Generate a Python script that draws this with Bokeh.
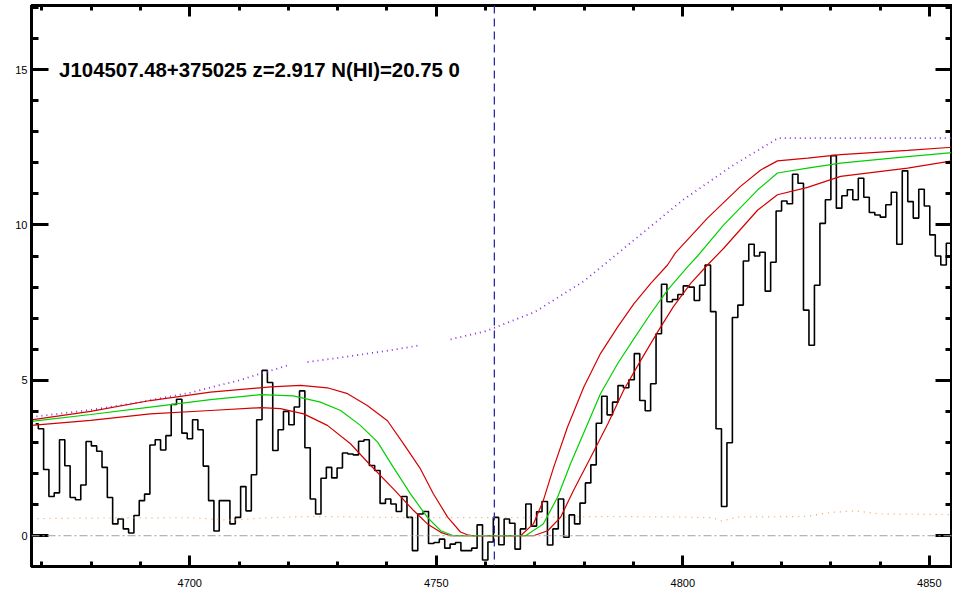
import numpy as np
from bokeh.plotting import figure
from bokeh.models import Span, Label, LinearAxis, SingleIntervalTicker, Range1d, CustomJSTickFormatter
from bokeh.embed import file_html
from bokeh.resources import INLINE

# ---------------- data ----------------
qso_name = "J104507.48+375025"
z_abs = 2.917
log_nhi = "20.75"
lya_rest = 1215.67

# SDSS-like log-lambda pixel grid
loglam_start = 3.6692
dloglam = 1.0e-4

flux = [
    3.6, 3.44, 2.13, 1.26, 1.38, 3.09, 2.25, 1.23, 1.16, 1.63,
    3.03, 2.89, 2.72, 2.2, 1.23, 0.38, 0.54, 0.22, 0.09, 0.65,
    1.13, 1.34, 2.92, 3.09, 2.76, 3.22, 4.22, 4.39, 3.3, 3.12,
    3.73, 3.41, 2.24, 1.13, 0.15, 1.13, 1.13, 0.38, 0.59, 1.58,
    0.8, 1.96, 3.73, 5.32, 4.93, 2.74, 3.41, 4.0, 3.57, 4.14,
    4.66, 2.83, 1.18, 0.7, 1.85, 2.2, 1.86, 2.18, 2.66, 2.63,
    2.6, 3.04, 3.09, 2.26, 2.1, 1.04, 1.18, 1.02, 0.78, 1.26,
    0.59, -0.48, 0.7, 0.78, -0.25, -0.22, -0.11, -0.4, -0.27, -0.22,
    -0.48, -0.48, -0.4, 0.35, -0.78, -0.2, 0.59, -0.29, 0.54, 0.4,
    -0.43, 0.22, 1.02, 0.31, 0.77, 1.1, -0.3, 0.22, 1.18, -0.05,
    0.67, 0.38, 1.05, 1.7, 2.28, 3.62, 4.49, 3.89, 4.3, 4.83,
    4.76, 5.02, 5.86, 4.35, 4.02, 4.89, 6.5, 8.09, 7.53, 7.6,
    7.76, 8.04, 8.0, 7.57, 8.06, 8.71, 7.21, 3.44, 0.94, 2.99,
    7.02, 7.42, 8.84, 9.38, 9.0, 9.12, 7.87, 8.8, 10.45, 10.77,
    10.68, 11.63, 11.34, 7.26, 6.13, 8.06, 10.05, 10.81, 12.23, 10.54,
    10.94, 11.13, 10.81, 11.5, 10.89, 10.4, 10.32, 10.25, 10.65, 11.05,
    9.38, 11.74, 10.75, 10.22, 11.15, 10.61, 9.68, 9.0, 8.71, 9.41,
    9.51,
]

nan = float("nan")
# continuum (purple dotted); nan marks masked gaps
cont_wave = [4667.9, 4680.0, 4690.0, 4700.0, 4710.0, 4720.4, nan, 4723.9, 4730.0, 4740.0,
             4746.8, nan, 4752.9, 4760.0, 4770.0, 4780.0, 4790.0, 4800.0, 4810.0, 4819.3, 4854.7]
cont_flux = [3.82, 4.05, 4.3, 4.6, 5.0, 5.51, nan, 5.59, 5.72, 5.95,
             6.13, nan, 6.32, 6.58, 7.2, 8.2, 9.5, 10.8, 11.9, 12.79, 12.79]

# error spectrum (orange dotted)
err_wave = [4667.9, 4682.0, 4700.0, 4708.0, 4716.0, 4725.0, 4745.0, 4765.0, 4785.0,
            4800.0, 4806.0, 4808.0, 4811.0, 4825.0, 4830.0, 4835.0, 4840.0, 4854.7]
err_flux = [0.55, 0.57, 0.58, 0.5, 0.58, 0.62, 0.58, 0.58, 0.62,
            0.6, 0.58, 0.47, 0.6, 0.62, 0.75, 0.8, 0.7, 0.68]

# DLA model, best N(HI) (green)
fit_wave = [4667.9, 4679.9, 4692.0, 4704.2, 4714.4, 4721.0, 4726.5, 4730.6, 4734.6,
            4738.1, 4741.3, 4744.8, 4748.2, 4750.9, 4753.5, 4768.1, 4771.7, 4774.6,
            4777.2, 4780.7, 4783.3, 4786.8, 4790.1, 4793.5, 4796.9, 4801.0, 4803.0,
            4808.3, 4815.2, 4819.2, 4825.3, 4832.0, 4845.6, 4854.7]
fit_flux = [3.68, 3.9, 4.14, 4.38, 4.54, 4.5, 4.3, 4.03, 3.55,
            3.01, 2.2, 1.34, 0.59, 0.16, 0.0, 0.0, 0.38, 1.24,
            2.31, 3.6, 4.57, 5.54, 6.34, 7.15, 7.9, 8.66, 9.0,
            10.0, 11.13, 11.67, 11.83, 11.99, 12.2, 12.33]

# DLA model, lower N(HI) (upper red)
lo_wave = [4667.9, 4679.9, 4692.0, 4704.2, 4716.4, 4722.5, 4727.9, 4732.0, 4736.0,
           4740.1, 4743.4, 4746.8, 4749.4, 4752.3, 4754.9, 4756.3, 4757.5, 4767.1,
           4769.7, 4771.7, 4773.8, 4776.6, 4779.9, 4783.3, 4786.8, 4790.1, 4793.5,
           4796.9, 4798.5, 4805.0, 4811.7, 4815.8, 4819.2, 4825.3, 4832.0, 4845.6, 4854.7]
lo_flux = [3.73, 4.0, 4.35, 4.62, 4.79, 4.84, 4.76, 4.57, 4.19,
           3.7, 2.95, 2.15, 1.35, 0.6, 0.12, 0.03, 0.0, 0.0,
           0.38, 1.13, 2.2, 3.49, 4.78, 5.86, 6.72, 7.47, 8.12,
           8.71, 9.1, 10.22, 11.24, 11.77, 12.06, 12.15, 12.26, 12.4, 12.5]

# DLA model, higher N(HI) (lower red)
hi_wave = [4667.9, 4679.9, 4692.0, 4704.2, 4714.4, 4718.4, 4723.1, 4727.9, 4732.6,
           4736.7, 4741.3, 4745.4, 4748.2, 4750.9, 4752.9, 4769.7, 4772.6, 4775.2,
           4777.8, 4781.3, 4784.8, 4788.0, 4791.5, 4794.9, 4798.1, 4801.6, 4805.0,
           4808.3, 4815.2, 4819.2, 4825.3, 4832.0, 4845.6, 4854.7]
hi_flux = [3.55, 3.71, 3.92, 4.03, 4.12, 4.09, 3.92, 3.55, 2.96,
           2.26, 1.51, 0.81, 0.38, 0.11, 0.0, 0.0, 0.16, 0.59,
           1.45, 2.52, 3.6, 4.68, 5.65, 6.56, 7.37, 8.12, 8.71,
           9.25, 10.48, 10.97, 11.21, 11.56, 11.83, 12.06]

x_lo, x_hi = 4667.9, 4854.7
y_lo, y_hi = -0.99, 17.06

# ---------------- plot ----------------
wave = 10 ** (loglam_start + dloglam * np.arange(len(flux)))
lya_obs = lya_rest * (1.0 + z_abs)

p = figure(frame_width=921, frame_height=561,
           x_range=Range1d(x_lo, x_hi), y_range=Range1d(y_lo, y_hi),
           output_backend="svg", toolbar_location=None,
           min_border_left=31, min_border_right=0, min_border_top=5, min_border_bottom=30,
           background_fill_color="white", border_fill_color="white")
p.xgrid.visible = False
p.ygrid.visible = False
p.outline_line_color = "black"
p.outline_line_width = 3

xt = SingleIntervalTicker(interval=50, num_minor_ticks=5)
yt = SingleIntervalTicker(interval=5, num_minor_ticks=5)

def style_axis(ax, tick_in, minor_in, standoff):
    ax.axis_line_width = 3
    ax.axis_line_color = "black"
    ax.major_tick_line_width = 3
    ax.minor_tick_line_width = 3
    ax.major_tick_in = tick_in
    ax.major_tick_out = 0
    ax.minor_tick_in = minor_in
    ax.minor_tick_out = 0
    ax.major_label_standoff = standoff
    ax.major_label_text_font = "Liberation Sans"
    ax.major_label_text_font_size = "11px"
    ax.major_label_text_color = "black"

p.xaxis[0].ticker = xt
p.yaxis[0].ticker = yt
style_axis(p.xaxis[0], 11, 5, 12)
style_axis(p.yaxis[0], 17, 7, 4)

blank = CustomJSTickFormatter(code="return '';")
top = LinearAxis(ticker=xt, formatter=blank)
style_axis(top, 11, 5, 0)
p.add_layout(top, "above")
right = LinearAxis(ticker=yt, formatter=blank)
style_axis(right, 17, 7, 0)
p.add_layout(right, "right")

# zero line and DLA centre
p.add_layout(Span(location=0, dimension="width", line_color="#a0a0a0",
                  line_width=1, line_dash="8 3 2 3"))
p.add_layout(Span(location=lya_obs, dimension="height", line_color="#2b2b9e",
                  line_width=1.3, line_dash="8 5"))

# spectrum
p.step(wave, flux, mode="center", line_color="black", line_width=1.6)

# continuum and error
p.line(cont_wave, cont_flux, line_color="#8a2be2", line_width=1.8, line_dash="1 4")
p.line(err_wave, err_flux, line_color="#f0a060", line_width=1.2, line_dash="1 5")

# models
p.line(lo_wave, lo_flux, line_color="#d40000", line_width=1.2)
p.line(hi_wave, hi_flux, line_color="#d40000", line_width=1.2)
p.line(fit_wave, fit_flux, line_color="#00d000", line_width=1.2)

title = f"{qso_name} z={z_abs:.3f} N(HI)={log_nhi} 0"
p.add_layout(Label(x=4673.5, y=15.0, text=title, text_font="Liberation Sans",
                   text_font_style="bold", text_font_size="20.4px", text_color="black",
                   text_baseline="alphabetic"))

open("out.html", "w").write(file_html(p, INLINE))
